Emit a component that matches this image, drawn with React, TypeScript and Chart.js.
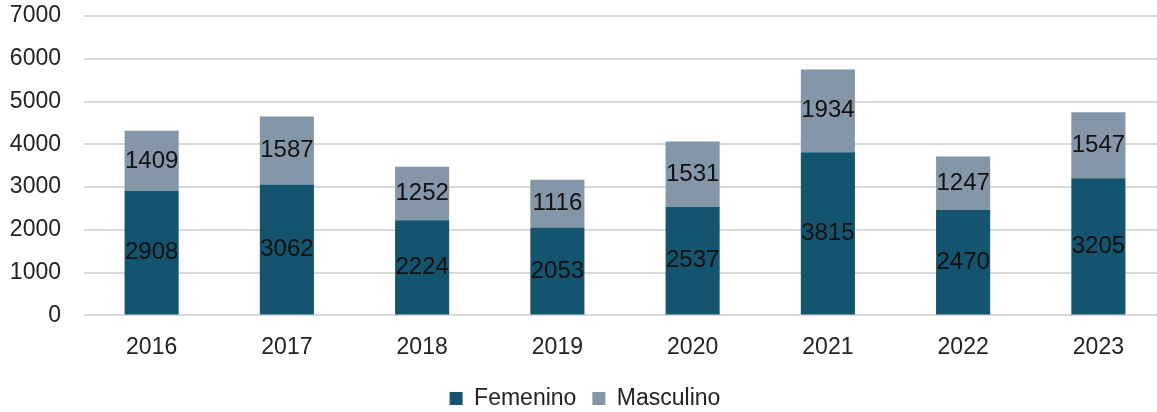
import React, { useEffect, useRef } from "react";
import { Chart, registerables } from "chart.js";

Chart.register(...registerables);

const years = ["2016", "2017", "2018", "2019", "2020", "2021", "2022", "2023"];
const femenino = [2908, 3062, 2224, 2053, 2537, 3815, 2470, 3205];
const masculino = [1409, 1587, 1252, 1116, 1531, 1934, 1247, 1547];
const yTicks = [0, 1000, 2000, 3000, 4000, 5000, 6000, 7000];

const FONT = "'Liberation Sans', Arial, sans-serif";
const TEXT = "#222222";

const labelPlugin = {
  id: "segLabels",
  afterDatasetsDraw(chart: any) {
    const ctx = chart.ctx;
    ctx.save();
    ctx.font = `24px ${FONT}`;
    ctx.fillStyle = "#111111";
    ctx.textAlign = "center";
    ctx.textBaseline = "middle";
    chart.data.datasets.forEach((ds: any, di: number) => {
      const meta = chart.getDatasetMeta(di);
      meta.data.forEach((el: any, i: number) => {
        const p = el.getCenterPoint();
        ctx.fillText(String(ds.data[i]), p.x, p.y);
      });
    });
    ctx.restore();
  },
};

const legendShift = {
  id: "legendShift",
  afterLayout(chart: any) {
    const d = 2;
    if (chart.legend) {
      chart.legend.left += d;
      chart.legend.right += d;
    }
  },
};

export default function App() {
  const ref = useRef<HTMLCanvasElement>(null);
  useEffect(() => {
    if (!ref.current) return;
    const chart = new Chart(ref.current, {
      type: "bar",
      data: {
        labels: years,
        datasets: [
          {
            label: "Femenino",
            data: femenino,
            backgroundColor: "#14546E",
            categoryPercentage: 0.4,
            barPercentage: 1,
          },
          {
            label: "Masculino",
            data: masculino,
            backgroundColor: "#8497A8",
            categoryPercentage: 0.4,
            barPercentage: 1,
          },
        ],
      },
      options: {
        responsive: false,
        animation: false,
        layout: { padding: { top: 16, right: 0, bottom: -8, left: 0 } },
        plugins: {
          tooltip: { enabled: false },
          legend: {
            position: "bottom",
            labels: {
              boxWidth: 13,
              boxHeight: 13,
              padding: 16,
              color: TEXT,
              font: { family: FONT, size: 23 },
            },
          },
        },
        scales: {
          x: {
            stacked: true,
            grid: { display: false },
            border: { display: false },
            ticks: {
              color: TEXT,
              font: { family: FONT, size: 23 },
              padding: 10,
            },
          },
          y: {
            stacked: true,
            min: 0,
            max: 7000,
            afterBuildTicks(scale: any) {
              scale.ticks = yTicks.map((v) => ({ value: v }));
            },
            afterFit(scale: any) {
              scale.width = 84;
              scale.paddingTop = 0;
              scale.paddingBottom = 0;
            },
            grid: { color: "#D9D9D9", lineWidth: 2, drawTicks: false },
            border: { display: false },
            ticks: {
              color: TEXT,
              font: { family: FONT, size: 23 },
              padding: 23,
              callback: (v: any) => String(v),
            },
          },
        },
      },
      plugins: [labelPlugin, legendShift],
    });
    return () => chart.destroy();
  }, []);
  return (
    <div
      style={{
        position: "fixed",
        left: 0,
        top: 0,
        width: 1157,
        height: 412,
        overflow: "hidden",
        background: "#fff",
      }}
    >
      <canvas ref={ref} width={1166} height={412} style={{ display: "block" }} />
    </div>
  );
}
